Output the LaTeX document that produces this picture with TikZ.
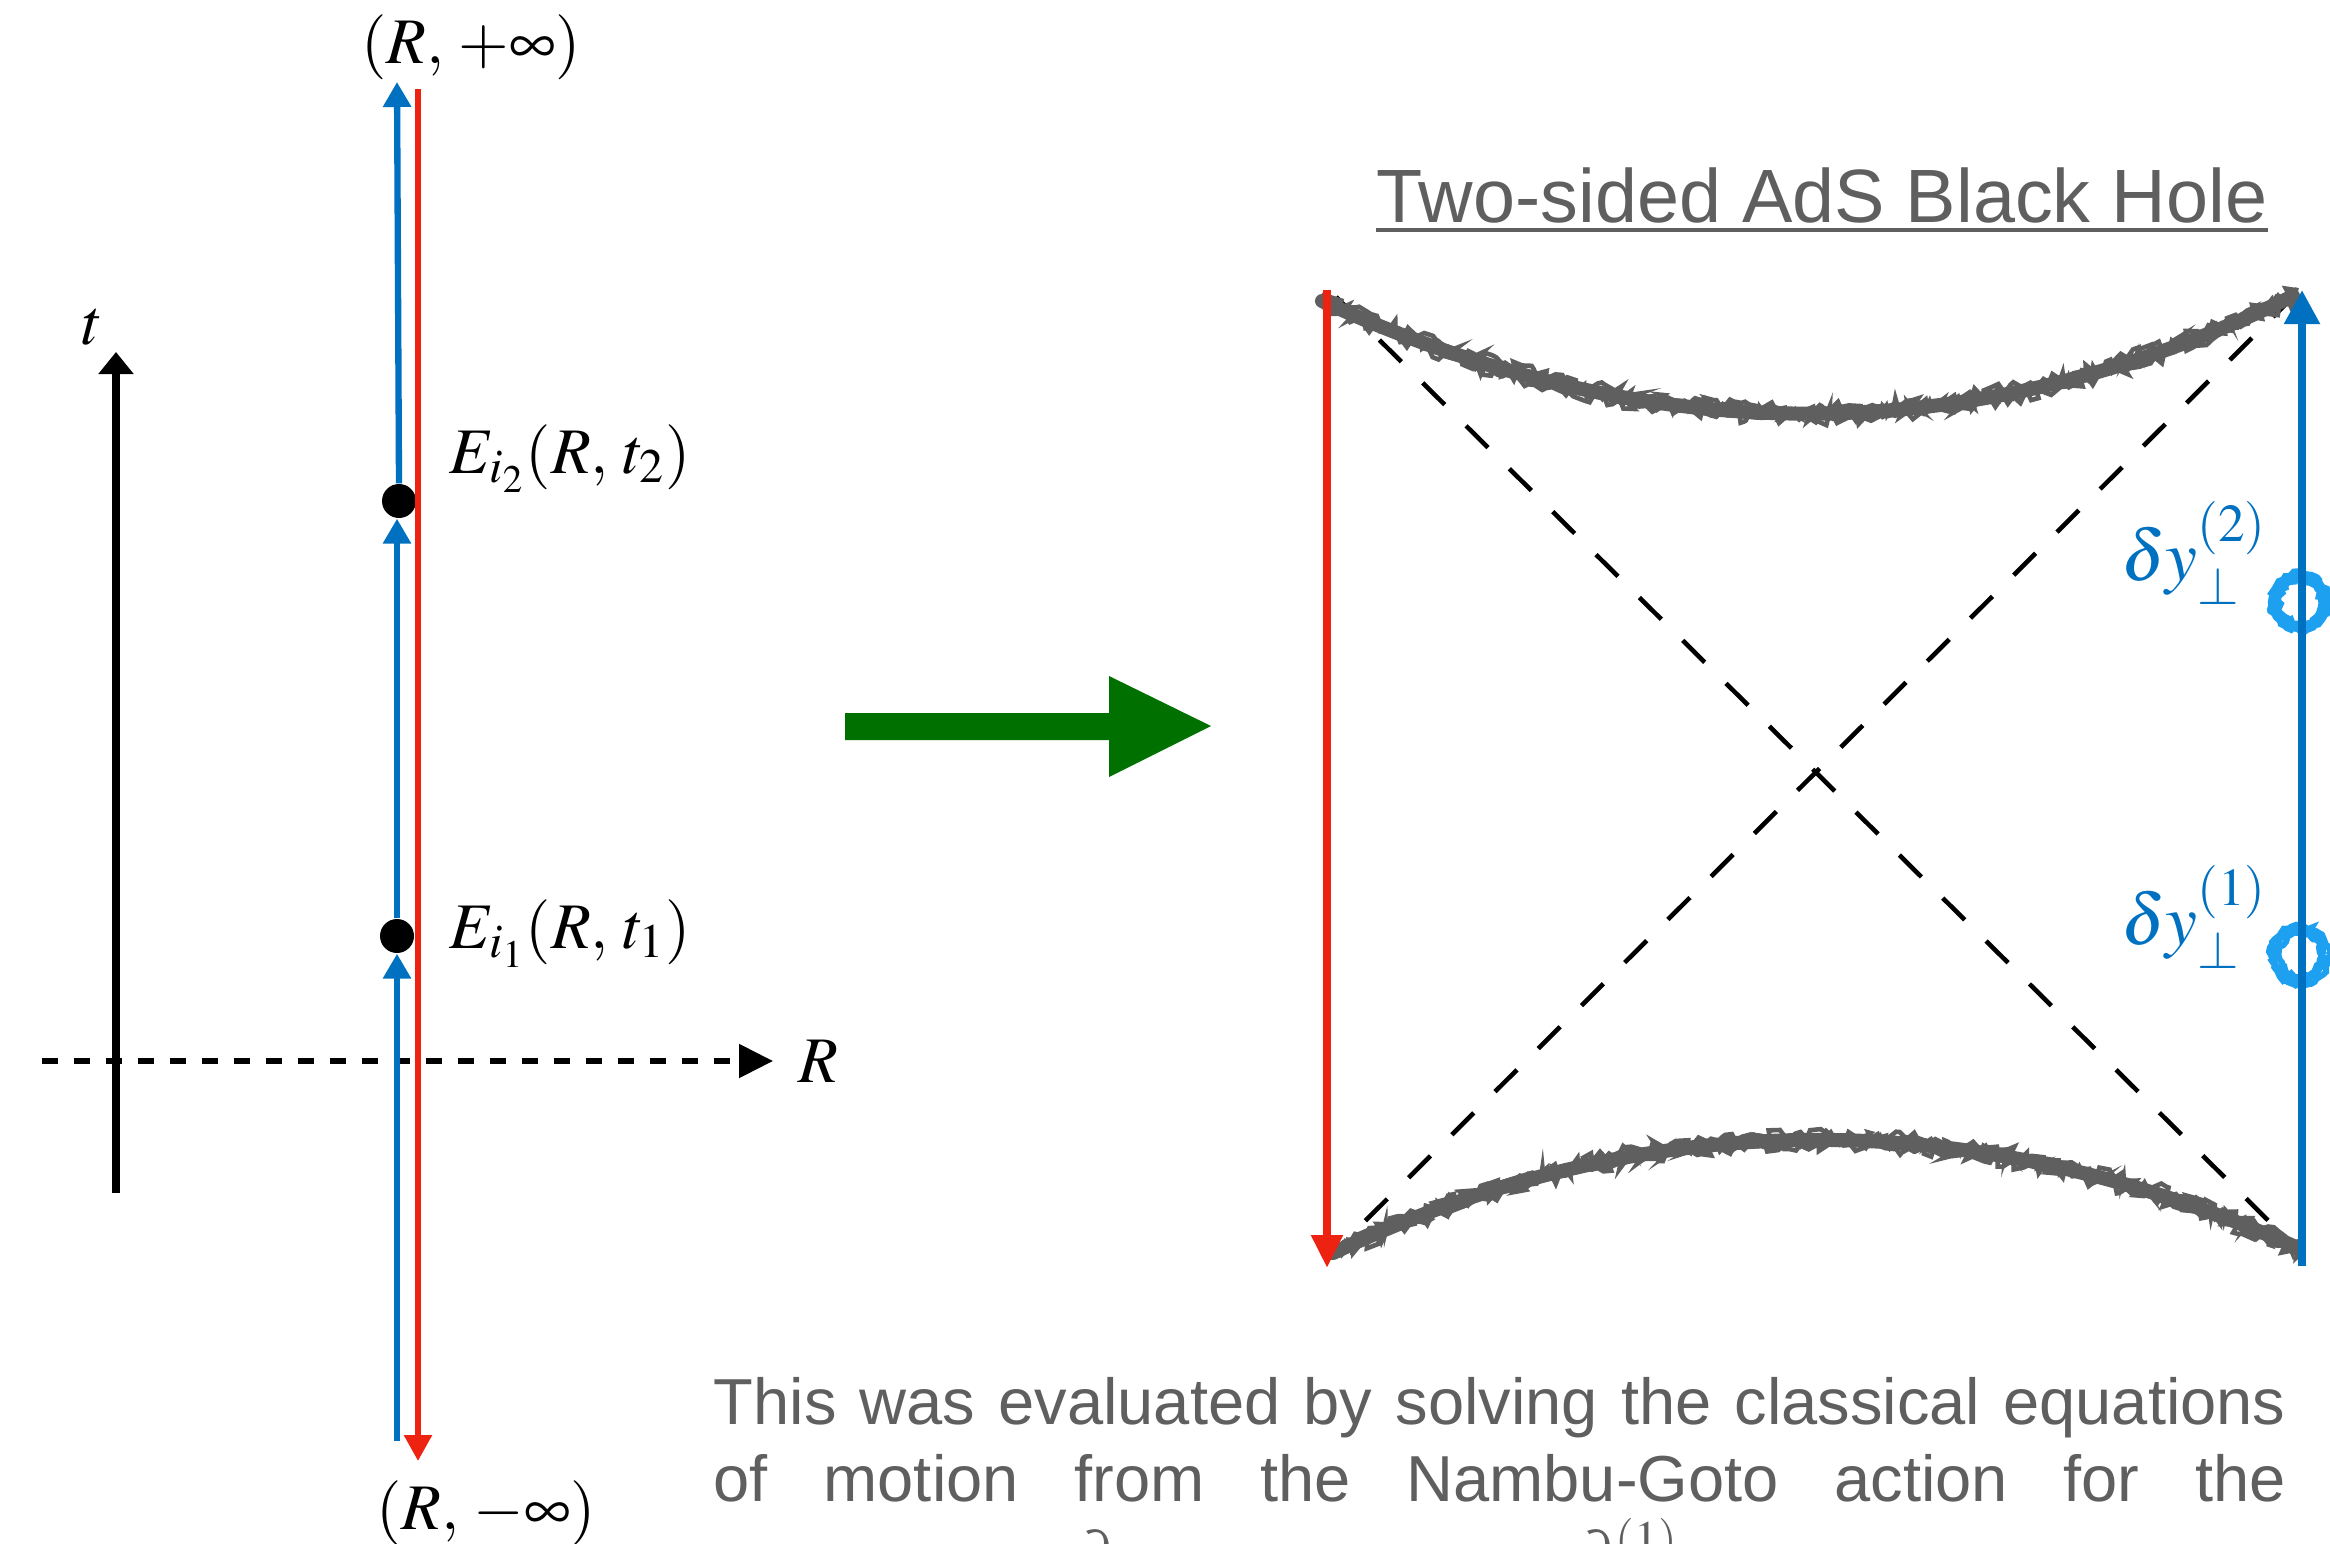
\documentclass[tikz,border=0pt]{standalone}
\usepackage{mathptmx}
\usepackage[no-math]{fontspec}
\newfontfamily\helv{Liberation Sans}
\usetikzlibrary{arrows.meta,decorations.pathmorphing}
\definecolor{strblue}{HTML}{0070C0}
\definecolor{strred}{HTML}{EE2211}
\definecolor{arrgreen}{HTML}{007000}
\definecolor{txtgray}{HTML}{5F5F5F}
\definecolor{ringblue}{HTML}{1EA0F0}

\begin{document}
\begin{tikzpicture}[
  lab/.style={font=\fontsize{18.5}{22}\selectfont,inner sep=0pt},
  blab/.style={font=\fontsize{20.5}{24}\selectfont,text=strblue,inner sep=0pt},
  para/.style={font=\helv\fontsize{18.5}{22}\selectfont,text=txtgray,inner sep=0pt},
  dot/.style={circle,fill=black,minimum size=0.34cm,inner sep=0pt},
  bluestr/.style={strblue,line width=1.8pt,-{Triangle[length=0.25cm,width=0.27cm]}},
  redstr/.style={strred,line width=1.6pt,-{Triangle[length=0.26cm,width=0.27cm]}},
  bluebdy/.style={strblue,line width=2.3pt,-{Triangle[length=0.34cm,width=0.34cm]}},
  redbdy/.style={strred,line width=2.3pt,-{Triangle[length=0.33cm,width=0.30cm]}},
  horizon/.style={draw=txtgray,line width=4pt,line cap=round},
  rough/.style={draw=txtgray,line width=1.3pt,decorate,
    decoration={random steps,segment length=1.4pt,amplitude=1.6pt}},
  ring/.style={draw=ringblue,line width=1.7pt,decorate,
    decoration={random steps,segment length=1pt,amplitude=0.6pt}}]
 \useasboundingbox (0,0) rectangle (23.30,15.43);
 \pgfmathsetseed{7}

 % axes
 \coordinate (tbot) at (1.16,3.50);
 \coordinate (ttop) at (1.16,11.91);
 \draw[line width=2.1pt,-{Triangle[length=0.22cm,width=0.34cm]}] (tbot) -- (ttop);
 \node[lab] (tlab) at (0.93,12.16) {$t$};
 \coordinate (rleft) at (0.42,4.82);
 \coordinate (rright) at (7.73,4.82);
 \draw[line width=1.5pt,dash pattern=on 0.16cm off 0.16cm,
   -{Triangle[length=0.34cm,width=0.33cm]}] (rleft) -- (rright);
 \node[lab,anchor=west] (rlab) at (7.98,4.82) {$R$};

 % string
 \coordinate (bbot) at (3.97,1.02);
 \coordinate (btop) at (3.97,14.61);
 \node[dot] (e1) at (3.97,6.07) {};
 \node[dot] (e2) at (3.99,10.42) {};
 \draw[bluestr] (bbot) -- (e1);
 \draw[bluestr] (e1) -- (e1 |- e2.south);
 \draw[bluestr] (e2 |- e2.north) -- (btop);
 \coordinate (rtop) at (4.18,14.54);
 \coordinate (rbot) at (4.18,0.82);
 \draw[redstr] (rtop) -- (rbot);
 \node[lab] (pinf) at (4.71,14.96) {$(R,\,+\infty)$};
 \node[lab] (minf) at (4.86,0.30) {$(R,\,-\infty)$};
 \node[lab,anchor=base west] (le2) at (4.49,10.70) {$E_{i_2}(R,\,t_2)$};
 \node[lab,anchor=base west] (le1) at (4.49,5.95) {$E_{i_1}(R,\,t_1)$};

 % map
 \fill[arrgreen] (8.45,8.30) -- (11.09,8.30) -- (11.09,8.67) -- (12.11,8.17)
   -- (11.09,7.66) -- (11.09,8.03) -- (8.45,8.03) -- cycle;

 % Penrose diagram
 \node[font=\helv\fontsize{21.5}{26}\selectfont,text=txtgray,inner sep=0pt,anchor=base]
   (title) at (18.22,13.20) {Two-sided AdS Black Hole};
 \draw[txtgray,line width=1.1pt] ([yshift=-0.07cm]title.base west)
   -- ([yshift=-0.07cm]title.base east);
 \coordinate (tl) at (13.36,12.46);
 \coordinate (tr) at (22.95,12.48);
 \coordinate (bl) at (13.33,2.90);
 \coordinate (br) at (22.98,2.93);
 \draw[line width=1.3pt,dash pattern=on 0.31cm off 0.30cm] (tl) -- (br);
 \draw[line width=1.3pt,dash pattern=on 0.31cm off 0.30cm] (tr) -- (bl);
 \draw[horizon] (13.22,12.42) .. controls (16.5,10.91) and (19.75,10.91) .. (22.93,12.47);
 \draw[horizon] (13.33,2.90) .. controls (16.5,4.40) and (19.75,4.40) .. (22.98,2.95);
 \foreach \s in {-0.06,-0.02,0.02,0.06}
  {\draw[rough] (13.22,{12.42+\s}) .. controls (16.5,{10.91+\s}) and (19.75,{10.91+\s}) .. (22.93,{12.47+\s});
   \draw[rough] (13.33,{2.90+\s}) .. controls (16.5,{4.40+\s}) and (19.75,{4.40+\s}) .. (22.98,{2.95+\s});}
 \coordinate (ltop) at (13.27,12.53);
 \coordinate (lbot) at (13.27,2.75);
 \draw[redbdy] (ltop) -- (lbot);
 \foreach \r in {0.21,0.25,0.29}
  {\draw[ring] (23.00,9.41) circle[radius=\r];
   \draw[ring] (23.00,5.88) circle[radius=\r];}
 \coordinate (rbdybot) at (23.02,2.77);
 \coordinate (rbdytop) at (23.02,12.53);
 \draw[bluebdy] (rbdybot) -- (rbdytop);
 \node[blab,anchor=east] (dy2) at (22.68,9.90) {$\delta y_\perp^{(2)}$};
 \node[blab,anchor=east] (dy1) at (22.68,6.26) {$\delta y_\perp^{(1)}$};

 % caption
 \node[para,anchor=base west] (body1) at (7.13,1.19)
   {\makebox[15.72cm][s]{This was evaluated by solving the classical equations}};
 \node[para,anchor=base west] (body2) at (7.13,0.42)
   {\makebox[15.72cm][s]{of motion from the Nambu-Goto action for the}};
 \node[para,anchor=base] (frag1) at (10.95,-0.35) {$\partial$};
 \node[para,anchor=base west] (frag2) at (15.75,-0.35) {$\partial^{(1)}$};
\end{tikzpicture}
\end{document}
